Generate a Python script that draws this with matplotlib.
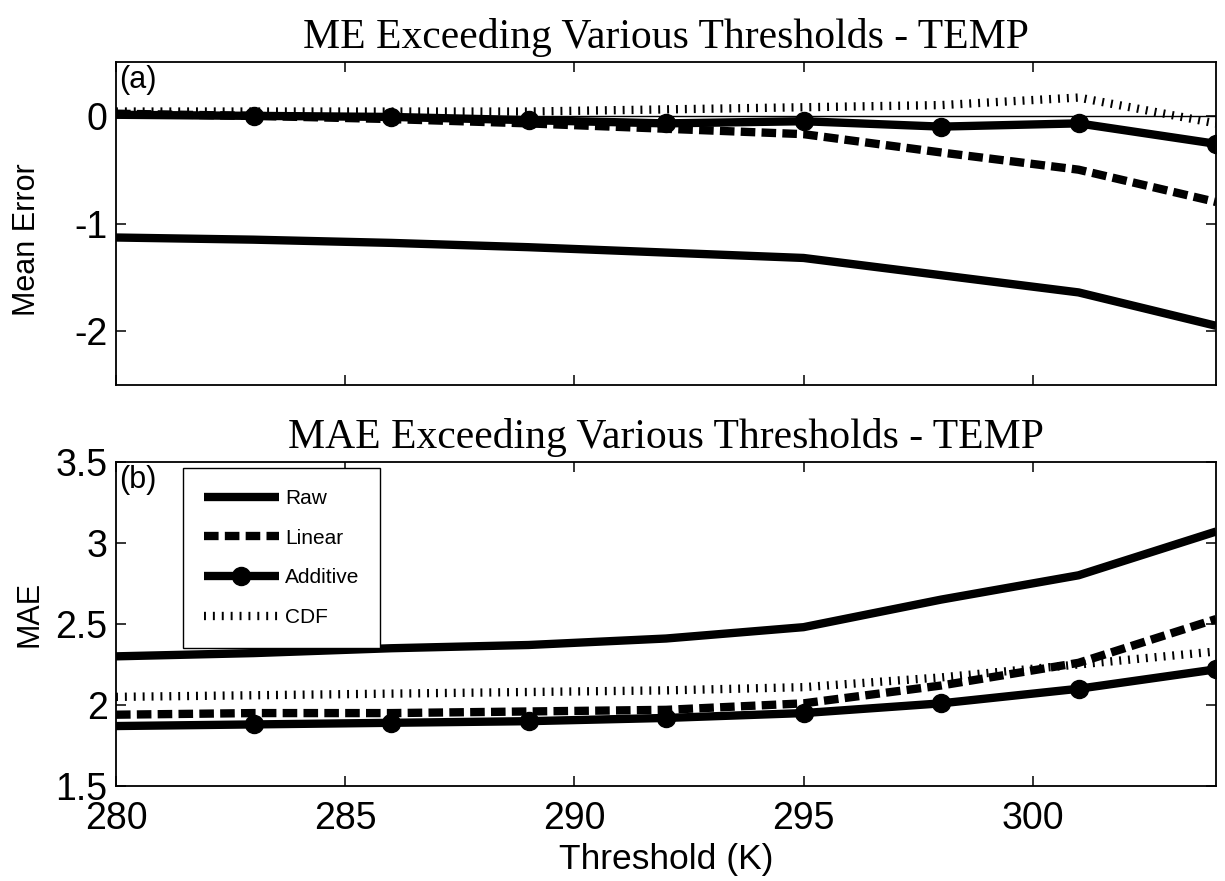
import matplotlib
matplotlib.use("Agg")
from matplotlib import pyplot as plt
import matplotlib.ticker as mticker

# thresholds (K) and scores for each correction method
thresholds = [280, 283, 286, 289, 292, 295, 298, 301, 304]

me_raw = [-1.13, -1.15, -1.18, -1.22, -1.27, -1.32, -1.48, -1.64, -1.95]
me_linear = [0.02, 0.00, -0.03, -0.07, -0.12, -0.17, -0.34, -0.50, -0.80]
me_additive = [0.01, 0.00, -0.01, -0.04, -0.07, -0.05, -0.10, -0.07, -0.26]
me_cdf = [0.04, 0.04, 0.04, 0.04, 0.06, 0.08, 0.10, 0.17, -0.07]

mae_raw = [2.30, 2.32, 2.35, 2.37, 2.41, 2.48, 2.65, 2.80, 3.07]
mae_linear = [1.94, 1.95, 1.95, 1.96, 1.97, 2.01, 2.12, 2.26, 2.53]
mae_additive = [1.87, 1.88, 1.89, 1.90, 1.92, 1.95, 2.01, 2.10, 2.22]
mae_cdf = [2.05, 2.06, 2.07, 2.08, 2.09, 2.11, 2.17, 2.25, 2.33]

labels = ['Raw', 'Linear', 'Additive', 'CDF']

sans = ['Liberation Sans Narrow', 'Liberation Sans', 'DejaVu Sans']
serif = ['Liberation Serif', 'DejaVu Serif']
plt.rcParams['font.family'] = sans
plt.rcParams['lines.scale_dashes'] = False

LW = 6.0
styles = [
    dict(color='k', lw=LW, solid_capstyle='butt'),
    dict(color='k', lw=LW, dashes=(10.5, 4.5), dash_capstyle='butt'),
    dict(color='k', lw=LW, marker='o', ms=13, markevery=slice(1, None),
         solid_capstyle='butt'),
    dict(color='k', lw=LW, dashes=(1.4, 5.0), dash_capstyle='butt'),
]

fig = plt.figure(figsize=(12.25, 8.81), dpi=100)
ax1 = fig.add_axes([0.0947, 0.563, 0.898, 0.3666])
ax2 = fig.add_axes([0.0947, 0.1078, 0.898, 0.368])


def style_axes(ax):
    ax.set_xlim(280, 304)
    ax.xaxis.set_major_locator(mticker.MultipleLocator(5))
    ax.tick_params(direction='in', top=True, right=True, length=7,
                   width=1.1, labelsize=27, pad=6)
    ax.tick_params(axis='x', pad=11)
    for s in ax.spines.values():
        s.set_linewidth(1.3)


for series, st in zip([me_raw, me_linear, me_additive, me_cdf], styles):
    ax1.plot(thresholds, series, **st)
ax1.axhline(0, color='k', lw=1.0)
ax1.set_ylim(-2.5, 0.5)
ax1.set_yticks([-2, -1, 0])
ax1.set_yticklabels(['-2', '-1', '0'])
style_axes(ax1)
ax1.set_xticklabels([])
ax1.set_ylabel('Mean Error', fontsize=22)
ax1.yaxis.set_label_coords(-0.067, 0.45)
ax1.set_title('ME Exceeding Various Thresholds - TEMP', family=serif,
              fontsize=30, pad=10)
ax1.text(0.003, 0.99, '(a)', transform=ax1.transAxes, fontsize=22,
         va='top', ha='left')

lines = []
for series, st, lab in zip([mae_raw, mae_linear, mae_additive, mae_cdf],
                           styles, labels):
    ln, = ax2.plot(thresholds, series, label=lab, **st)
    lines.append(ln)
ax2.set_ylim(1.5, 3.5)
ax2.set_yticks([1.5, 2, 2.5, 3, 3.5])
ax2.set_yticklabels(['1.5', '2', '2.5', '3', '3.5'])
style_axes(ax2)
ax2.set_ylabel('MAE', fontsize=22)
ax2.yaxis.set_label_coords(-0.065, 0.53)
ax2.set_xlabel('Threshold (K)', fontsize=25.5, labelpad=4)
ax2.set_title('MAE Exceeding Various Thresholds - TEMP', family=serif,
              fontsize=30, pad=10)
ax2.text(0.003, 0.99, '(b)', transform=ax2.transAxes, fontsize=22,
         va='top', ha='left')

leg = ax2.legend(handles=lines, loc='upper left',
                 bbox_to_anchor=(0.061, 0.981), borderaxespad=0,
                 fontsize=15, handlelength=3.6, handletextpad=0.3,
                 labelspacing=1.0, numpoints=1, fancybox=False,
                 framealpha=1, edgecolor='k', borderpad=1.0)
leg.get_frame().set_linewidth(1.0)

fig.savefig('out.png', dpi=100)
